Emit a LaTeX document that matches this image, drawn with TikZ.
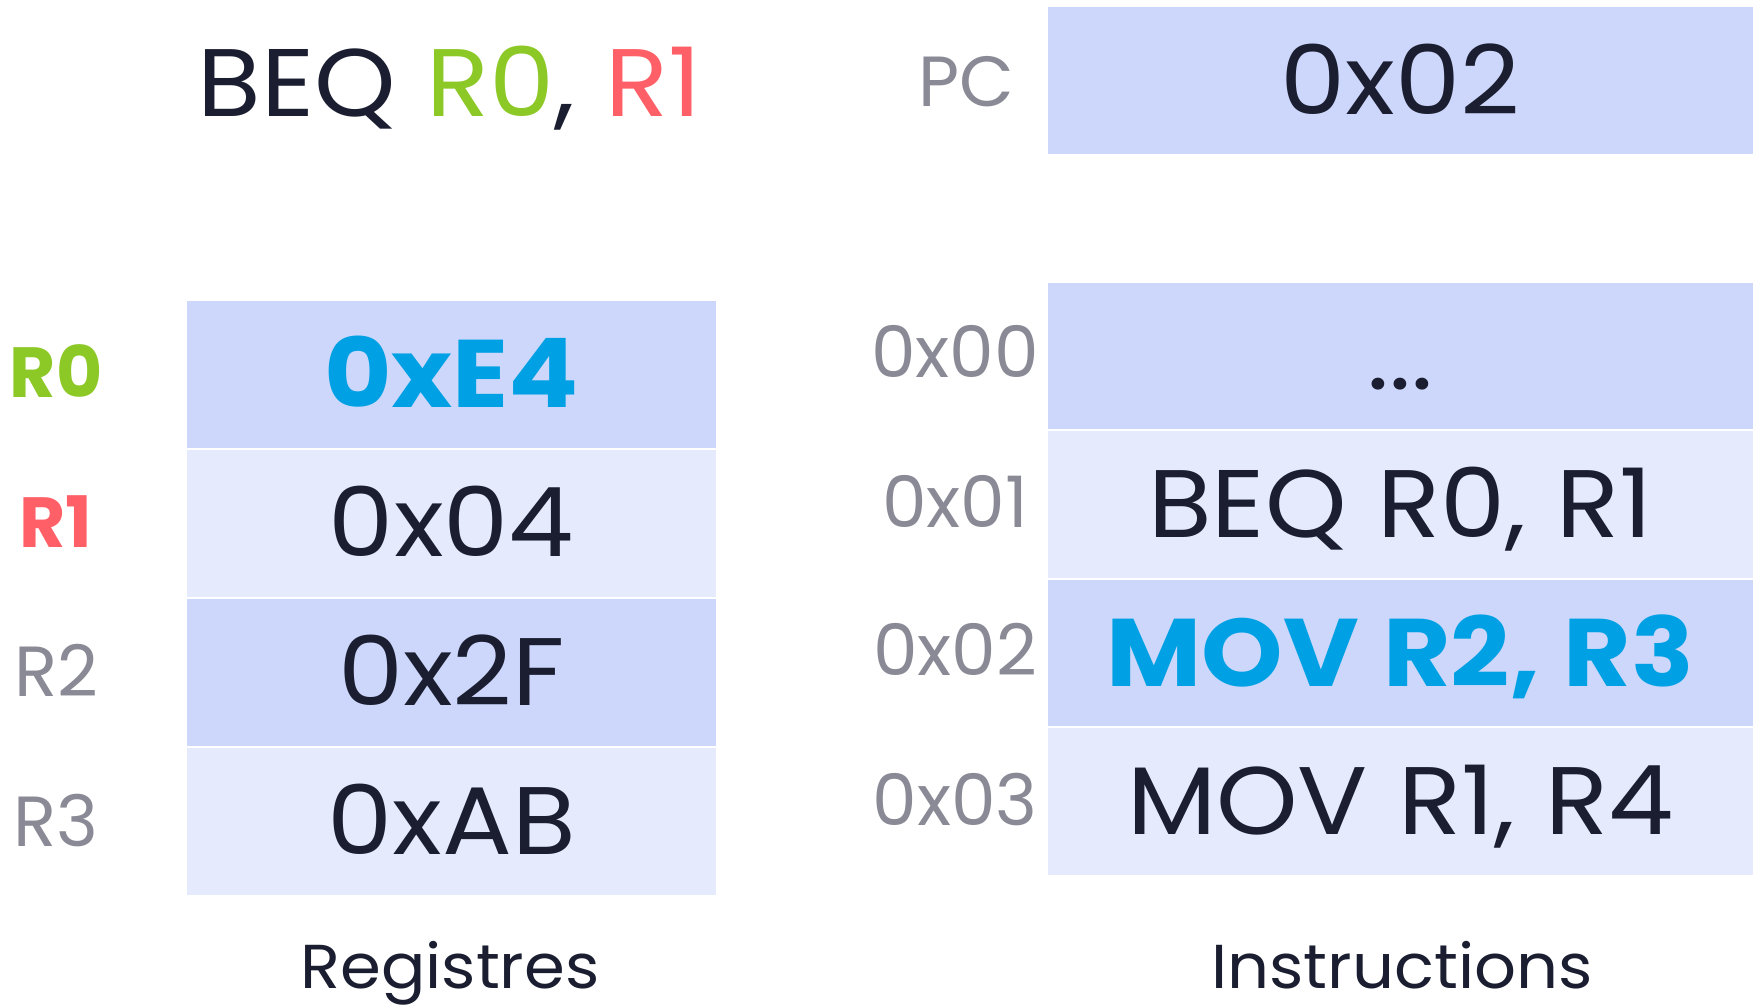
\documentclass[tikz,border=0pt]{standalone}
\usepackage{fontspec}
\setmainfont{Poppins}
\newfontfamily\bigfam{Poppins}[FakeStretch=1.08,WordSpace=1.25]
\newfontfamily\bigboldfam{Poppins}[FakeStretch=1.08,WordSpace=1.1]
\newfontfamily\capfam{Poppins}[FakeStretch=1.06]
\definecolor{rowdark}{HTML}{CDD7FB}
\definecolor{rowlight}{HTML}{E5EBFD}
\definecolor{ink}{HTML}{1A1E30}
\definecolor{hiblue}{HTML}{00A1E4}
\definecolor{regreen}{HTML}{8CC826}
\definecolor{regred}{HTML}{FF5F66}
\definecolor{labgray}{HTML}{8A8A96}
\newcommand\bigtxt{\bigfam\fontsize{96}{100}\selectfont}
\newcommand\bigbold{\bigboldfam\bfseries\fontsize{96}{100}\selectfont}
\newcommand\lbltxt{\fontsize{71}{75}\selectfont}
\newcommand\lblbold{\bfseries\fontsize{71}{75}\selectfont}
\newcommand\captxt{\capfam\fontsize{62}{66}\selectfont}
\begin{document}
\begin{tikzpicture}[x=1pt,y=-1pt,
  cellbase/.style={rectangle, inner sep=0pt, text height=67pt, text depth=0pt, font=\bigtxt, text=ink},
  regcell/.style={cellbase, minimum width=529pt, minimum height=147pt},
  inscell/.style={cellbase, minimum width=705pt, minimum height=146.5pt},
  dark/.style={fill=rowdark},
  light/.style={fill=rowlight},
  hilite/.style={font=\bigbold, text=hiblue},
  lbl/.style={inner sep=0pt, text height=50pt, text depth=0pt, font=\lbltxt, text=labgray},
  caption/.style={inner sep=0pt, anchor=base, font=\captxt, text=ink}]
\useasboundingbox (0,0) rectangle (1753,1007);
% title
\node[cellbase] (title) at (450,83) {BEQ \textcolor{regreen}{R0}, \textcolor{regred}{R1}};
% PC
\node[lbl] (pclbl) at (966,81) {PC};
\node[inscell, dark, minimum height=147pt] (pc) at (1400.5,80.5) {0x02};
% registers
\node[regcell, dark, hilite] (r0) at (451.5,374) {0xE4};
\node[regcell, light] (r1) at (451.5,523) {0x04};
\node[regcell, dark] (r2) at (451.5,672) {0x2F};
\node[regcell, light] (r3) at (451.5,821) {0xAB};
\node[lbl, text=regreen, font=\lblbold] (l0) at (56,372) {R0};
\node[lbl, text=regred, font=\lblbold] (l1) at (56,522) {R1};
\node[lbl] (l2) at (56,671.5) {R2};
\node[lbl] (l3) at (56,821) {R3};
% instructions
\node[inscell, dark] (i0) at (1400.5,355.75) {...};
\node[inscell, light] (i1) at (1400.5,504.25) {BEQ R0, R1};
\node[inscell, dark, hilite] (i2) at (1400.5,652.75) {MOV R2, R3};
\node[inscell, light] (i3) at (1400.5,801.25) {MOV R1, R4};
\node[lbl] (a0) at (955,352) {0x00};
\node[lbl] (a1) at (955,502) {0x01};
\node[lbl] (a2) at (955,650) {0x02};
\node[lbl] (a3) at (955,800) {0x03};
% captions
\node[caption] (capr) at (450,988) {Registres};
\node[caption] (capi) at (1402,988) {Instructions};
\end{tikzpicture}
\end{document}
